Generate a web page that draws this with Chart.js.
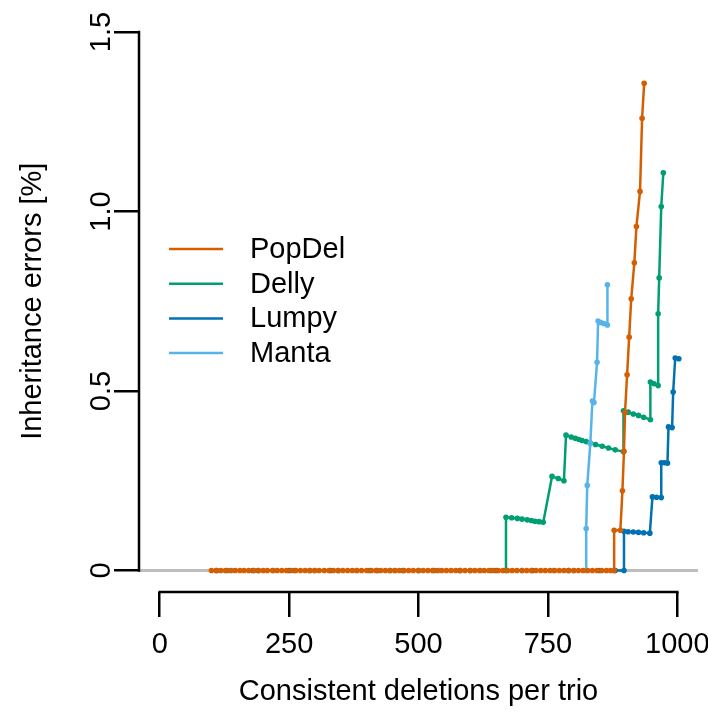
<!DOCTYPE html>
<html>
<head>
<meta charset="utf-8">
<script src="https://cdn.jsdelivr.net/npm/chart.js@4/dist/chart.umd.min.js"></script>
<style>
html,body{margin:0;padding:0;background:#fff;}
#wrap{width:708px;height:715px;}
</style>
</head>
<body>
<div id="wrap"><canvas id="c" width="708" height="715"></canvas></div>
<script>
// ---- data ----
const seriesNames = ["PopDel", "Delly", "Lumpy", "Manta"];
const seriesColors = ["#D55E00", "#009E73", "#0072B2", "#56B4E9"];

const popdelX = [100,109,118,127,137,146,155,163,172,182,191,200,208,218,227,236,245,254,263,272,281,290,299,308,318,327,336,345,354,363,372,381,390,400,409,418,427,436,445,454,463,472,481,490,500,509,518,527,536,545,554,563,572,581,590,600,609,618,627,636,645,654,663,672,681,690,700,709,718,727,736,745,754,763,772,781,790,800,809,818,827,836,845,854,863,871,878,
  878,890,894,897,899,903,907,911,917,921,928,932,936];
const popdelY = [0,0,0,0,0,0,0,0,0,0,0,0,0,0,0,0,0,0,0,0,0,0,0,0,0,0,0,0,0,0,0,0,0,0,0,0,0,0,0,0,0,0,0,0,0,0,0,0,0,0,0,0,0,0,0,0,0,0,0,0,0,0,0,0,0,0,0,0,0,0,0,0,0,0,0,0,0,0,0,0,0,0,0,0,0,0,0,
  0.112,0.112,0.222,0.332,0.44,0.545,0.65,0.757,0.857,0.958,1.056,1.26,1.357];

const dellyX = [130,190,260,290,345,405,445,470,530,600,640,669,
  669,680,691,700,710,718,725,733,741,
  758,770,781,
  785,795,803,810,816,824,832,842,855,867,880,896,
  896,905,915,925,935,948,
  948,955,963,
  963,965,969,973];
const dellyY = [0,0,0,0,0,0,0,0,0,0,0,0,
  0.148,0.147,0.145,0.143,0.141,0.139,0.137,0.136,0.134,
  0.262,0.256,0.25,
  0.377,0.372,0.368,0.365,0.362,0.359,0.355,0.351,0.346,0.341,0.336,0.331,
  0.445,0.441,0.436,0.432,0.427,0.42,
  0.525,0.52,0.515,
  0.715,0.815,1.014,1.108];

const lumpyX = [110,180,250,330,420,500,580,650,720,790,850,880,897,
  897,905,915,925,935,947,
  952,960,969,
  969,975,981,
  983,990,
  992,
  996,1003];
const lumpyY = [0,0,0,0,0,0,0,0,0,0,0,0,0,
  0.109,0.108,0.107,0.106,0.105,0.104,
  0.205,0.204,0.203,
  0.30,0.30,0.299,
  0.40,0.398,
  0.497,
  0.592,0.59];

const mantaX = [140,220,300,380,455,540,620,700,760,800,824,
  824,826,832,
  836,839,
  845,
  847,852,858,865,
  865];
const mantaY = [0,0,0,0,0,0,0,0,0,0,0,
  0.117,0.237,0.354,
  0.472,0.468,
  0.58,
  0.695,0.691,0.688,0.684,
  0.796];

const xTickValues = [0, 250, 500, 750, 1000];
const xTickLabels = ["0", "250", "500", "750", "1000"];
const yTickValues = [0, 0.5, 1.0, 1.5];
const yTickLabels = ["0", "0.5", "1.0", "1.5"];
const xTitle = "Consistent deletions per trio";
const yTitle = "Inheritance errors [%]";

// ---- chart ----
const FONT = "'Liberation Sans', Arial, Helvetica, sans-serif";
const FS = 29;

function pts(xs, ys){ return xs.map((x,i)=>({x:x, y:ys[i]})); }
const allX = [popdelX, dellyX, lumpyX, mantaX];
const allY = [popdelY, dellyY, lumpyY, mantaY];
const drawOrder = [0, 2, 3, 1];

const datasets = seriesNames.map((n,i)=>({
  label: n,
  data: pts(allX[i], allY[i]),
  borderColor: seriesColors[i],
  backgroundColor: seriesColors[i],
  borderWidth: 2.5,
  pointRadius: 2.8,
  pointBorderWidth: 0,
  pointHoverRadius: 2.8,
  showLine: true,
  tension: 0,
  order: drawOrder[i]
}));

const decor = {
  id: 'decor',
  beforeDatasetsDraw(chart){
    const ctx = chart.ctx, ca = chart.chartArea, ys = chart.scales.y;
    const y0 = ys.getPixelForValue(0);
    ctx.save();
    ctx.beginPath();
    ctx.rect(ca.left, ca.top, ca.right-ca.left, ca.bottom-ca.top);
    ctx.clip();
    ctx.strokeStyle = '#BEBEBE';
    ctx.lineWidth = 3;
    ctx.beginPath();
    ctx.moveTo(ca.left, y0);
    ctx.lineTo(ca.right, y0);
    ctx.stroke();
    ctx.restore();
  },
  afterDraw(chart){
    const ctx = chart.ctx, ca = chart.chartArea, xs = chart.scales.x, ys = chart.scales.y;
    ctx.save();
    // axis lines (from first to last tick, R style)
    ctx.strokeStyle = '#000';
    ctx.lineWidth = 2.5;
    ctx.lineCap = 'butt';
    ctx.beginPath();
    ctx.moveTo(xs.getPixelForValue(xTickValues[0]) - 1.25, ca.bottom);
    ctx.lineTo(xs.getPixelForValue(xTickValues[xTickValues.length-1]) + 1.25, ca.bottom);
    ctx.moveTo(ca.left, ys.getPixelForValue(yTickValues[0]) + 1.25);
    ctx.lineTo(ca.left, ys.getPixelForValue(yTickValues[yTickValues.length-1]) - 1.25);
    ctx.stroke();
    // rotated y tick labels
    ctx.fillStyle = '#000';
    ctx.font = FS + 'px ' + FONT;
    ctx.textAlign = 'center';
    ctx.textBaseline = 'middle';
    yTickValues.forEach((v,i)=>{
      const py = ys.getPixelForValue(v);
      ctx.save();
      ctx.translate(ca.left - 37, py);
      ctx.rotate(-Math.PI/2);
      ctx.fillText(yTickLabels[i], 0, 0);
      ctx.restore();
    });
    // legend (inside plot, top-left)
    const lx0 = 169, lx1 = 223, tx = 250, ly0 = 249, dy = 34.7;
    ctx.textAlign = 'left';
    ctx.textBaseline = 'middle';
    seriesNames.forEach((n,i)=>{
      const y = ly0 + i*dy;
      ctx.strokeStyle = seriesColors[i];
      ctx.lineWidth = 2.5;
      ctx.beginPath();
      ctx.moveTo(lx0, y); ctx.lineTo(lx1, y);
      ctx.stroke();
      ctx.fillStyle = '#000';
      ctx.fillText(n, tx, y + 1);
    });
    ctx.restore();
  }
};

new Chart(document.getElementById('c'), {
  type: 'scatter',
  data: { datasets: datasets },
  options: {
    responsive: false,
    animation: false,
    devicePixelRatio: 1,
    layout: { padding: { left: 0, right: 10, top: 10.5, bottom: 0 } },
    plugins: { legend: { display: false }, tooltip: { enabled: false } },
    scales: {
      x: {
        type: 'linear',
        min: -40, max: 1040,
        afterBuildTicks(scale){ scale.ticks = xTickValues.map(v=>({value:v})); },
        afterFit(scale){ scale.paddingLeft = 0; scale.paddingRight = 0; },
        border: { display: false },
        grid: { display: true, drawOnChartArea: false, drawTicks: true, tickLength: 25, color: '#000', lineWidth: 2.5 },
        ticks: {
          color: '#000', padding: 10.6, maxRotation: 0, minRotation: 0, autoSkip: false,
          font: { family: FONT, size: FS },
          callback: (v)=>{ const k = xTickValues.indexOf(v); return k >= 0 ? xTickLabels[k] : ''; }
        },
        title: { display: true, text: xTitle, color: '#000', font: { family: FONT, size: FS }, padding: { top: 1.6, bottom: 5.6 } }
      },
      y: {
        type: 'linear',
        min: -0.06, max: 1.56,
        afterBuildTicks(scale){ scale.ticks = yTickValues.map(v=>({value:v})); },
        border: { display: false },
        grid: { display: true, drawOnChartArea: false, drawTicks: true, tickLength: 25, color: '#000', lineWidth: 2.5 },
        ticks: { display: false },
        title: { display: true, text: yTitle, color: '#000', font: { family: FONT, size: FS }, padding: { top: 15.6, bottom: 63.6 } }
      }
    }
  },
  plugins: [decor]
});
</script>
</body>
</html>
